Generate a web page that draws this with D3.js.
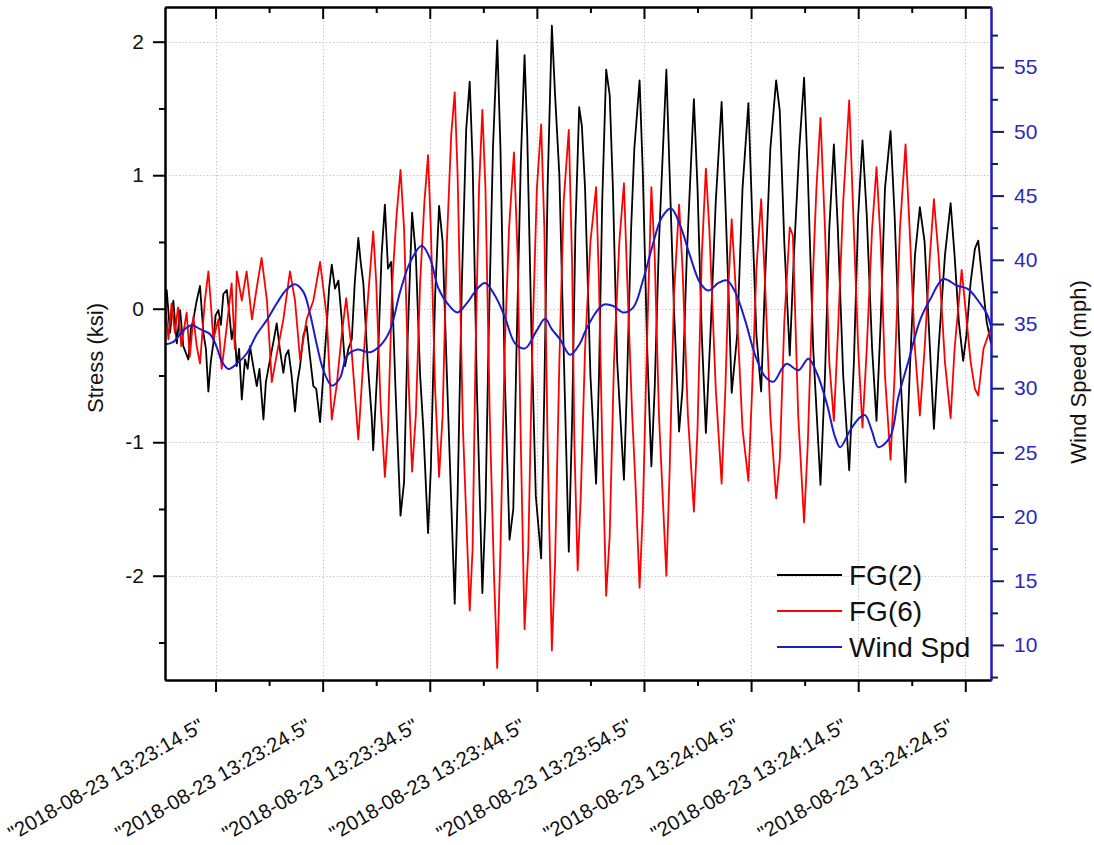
<!DOCTYPE html>
<html><head><meta charset="utf-8">
<script src="https://cdn.jsdelivr.net/npm/d3@7"></script>
<style>body{margin:0;background:#fff;} svg{display:block;font-family:Arial,"Liberation Sans",sans-serif;}</style>
</head><body><svg id="chart" width="1094" height="845"></svg>
<script>
// ---- data (time in seconds after 2018-08-23 13:23:00) ----
const timeFG2 = [9.78,9.94,10.25,10.56,10.88,11.19,11.49,11.96,12.2,12.43,12.74,13.05,13.36,13.6,13.83,14.05,14.29,14.5,14.76,15.0,15.23,15.55,15.8,16.01,16.25,16.48,16.7,16.95,17.25,17.5,17.72,18.0,18.35,18.6,18.97,19.2,19.59,19.9,20.21,20.5,20.83,21.05,21.3,21.6,21.92,22.15,22.39,22.7,23.01,23.3,23.63,23.9,24.26,24.6,24.88,25.1,25.35,25.65,25.97,26.3,26.59,26.9,27.22,27.5,27.83,28.05,28.3,28.7,29.08,29.22,
29.7,30.0,30.31,30.6,30.9,31.3,31.77,32.1,32.4,32.85,33.2,33.6,33.9,34.34,34.6,35.0,35.37,35.7,36.1,36.83,37.1,37.5,37.9,38.23,38.5,38.9,39.41,39.7,40.0,40.4,40.8,41.1,41.5,41.95,42.3,42.6,43.0,43.35,43.6,44.0,44.4,44.9,45.2,45.5,45.9,46.2,46.6,47.0,47.48,47.8,48.1,48.45,48.7,49.0,49.5,50.03,50.3,50.6,50.97,51.3,51.6,52.0,52.63,52.9,53.3,53.6,54.09,54.4,54.8,55.19,55.5,55.9,56.59,56.9,57.3,57.78,58.1,58.5,59.16,59.5,59.9,60.28,60.7,61.2,61.75,62.1,62.4,62.69,63.2,63.7,64.25,64.6,65.0,65.44,65.8,66.3,66.84,67.18,67.6,68.11,68.5,69.0,69.45,69.8,70.3,70.98,71.4,71.8,72.23,72.6,73.1,73.66,74.1,74.5,74.9,75.3,75.8,76.21,76.6,77.0,77.52,77.9,78.4,78.92,79.3,79.8,80.26,80.7,81.2,81.57,82.0,82.6,83.13,83.5,83.9,84.3,84.6,85.0,85.4,85.71,86.1,86.5,86.9];
const stressFG2 = [0.0,0.14,-0.18,0.06,-0.26,-0.01,-0.28,-0.38,-0.15,-0.08,0.06,0.17,-0.18,-0.3,-0.62,-0.4,-0.26,-0.05,-0.01,-0.12,0.11,0.14,-0.05,-0.23,-0.12,-0.43,-0.3,-0.68,-0.38,-0.45,-0.28,-0.42,-0.58,-0.45,-0.83,-0.55,-0.38,-0.25,-0.11,-0.3,-0.48,-0.35,-0.31,-0.5,-0.77,-0.55,-0.43,-0.2,-0.13,-0.35,-0.58,-0.6,-0.85,-0.45,-0.13,0.15,0.33,0.15,0.21,-0.1,-0.43,-0.3,-0.23,0.2,0.53,0.35,0.19,-0.4,-0.81,-1.06,
-0.3,0.4,0.78,0.3,0.35,-0.6,-1.55,-1.3,-0.3,0.72,0.4,-0.5,-0.9,-1.68,-1.2,0.1,0.77,0.5,-0.5,-2.21,-1.4,0.2,1.34,1.7,1.1,-0.6,-2.13,-1.5,-0.2,1.2,2.01,1.2,-0.5,-1.73,-1.5,-0.3,1.1,1.9,1.3,-0.2,-1.4,-1.87,-0.6,0.9,2.12,1.6,1.0,-0.3,-1.82,-0.8,0.6,1.51,1.37,0.9,-0.5,-1.31,-0.5,0.8,1.79,1.6,0.9,-0.4,-1.28,-0.6,0.6,1.2,1.71,1.0,-0.3,-1.18,-0.6,0.5,1.79,1.0,0.0,-0.92,-0.6,0.4,1.57,0.9,-0.2,-0.93,-0.2,0.8,1.55,0.8,0.1,-0.63,-0.2,0.9,1.54,0.7,-0.2,-0.62,0.2,1.2,1.71,1.48,0.5,-0.35,0.4,1.2,1.73,1.0,-0.3,-1.32,-0.5,0.6,1.23,0.6,-0.5,-1.21,-0.4,0.7,1.26,0.7,-0.3,-0.84,-0.1,0.9,1.33,0.7,-0.4,-1.3,-0.5,0.4,0.76,0.5,-0.3,-0.9,-0.3,0.4,0.79,0.4,-0.1,-0.39,-0.2,0.2,0.45,0.51,0.2,-0.1,-0.26];

const timeFG6 = [9.78,10.1,10.4,10.7,11.0,11.3,11.8,12.1,12.43,12.74,13.05,13.5,13.83,14.05,14.29,14.76,15.07,15.3,15.55,16.0,16.3,16.48,16.95,17.4,17.9,18.35,18.8,19.3,19.75,20.2,20.83,21.45,21.92,22.39,23.0,23.63,24.26,24.88,25.35,25.8,26.3,26.7,27.2,27.83,28.3,28.8,29.22,
29.5,29.9,30.31,30.6,31.0,31.4,31.77,32.1,32.5,32.85,33.2,33.6,34.0,34.34,34.6,35.0,35.37,35.7,36.1,36.5,36.83,37.1,37.6,38.23,38.5,38.8,39.1,39.41,39.7,40.1,40.5,40.8,41.1,41.5,41.9,42.36,42.7,43.0,43.35,43.7,44.1,44.5,44.9,45.2,45.5,45.9,46.2,46.6,47.0,47.48,47.8,48.0,48.31,48.6,49.0,49.5,50.03,50.3,50.6,50.97,51.3,51.7,52.2,52.63,52.9,53.4,53.7,54.09,54.4,54.8,55.19,55.5,55.9,56.59,56.9,57.3,57.78,58.1,58.6,59.16,59.5,59.9,60.28,60.6,61.2,61.75,62.1,62.4,62.69,63.1,63.7,64.25,64.6,65.0,65.44,65.8,66.3,66.84,67.18,67.6,68.11,68.4,68.9,69.45,69.8,70.3,70.6,70.98,71.4,71.8,72.23,72.6,73.1,73.66,74.0,74.5,74.9,75.3,75.8,76.21,76.6,77.0,77.52,77.9,78.4,78.92,79.3,79.8,80.26,80.7,81.2,81.57,82.0,82.6,83.13,83.5,84.16,84.4,85.0,85.4,85.71,86.2,86.9];
const stressFG6 = [0.06,-0.23,0.04,-0.18,0.01,-0.28,-0.03,-0.36,-0.06,-0.28,-0.41,0.06,0.28,0.05,-0.23,-0.08,-0.45,-0.3,-0.13,0.19,-0.3,0.28,0.06,0.28,-0.08,0.16,0.38,0.06,-0.55,-0.35,-0.08,0.28,0.06,-0.38,-0.08,0.06,0.35,-0.06,-0.83,-0.58,-0.18,0.08,-0.31,-0.98,-0.38,0.15,0.58,
0.2,-0.7,-1.26,-0.9,0.2,0.7,1.04,0.6,-0.5,-1.22,-0.8,0.2,0.8,1.15,0.6,-0.6,-1.26,-0.8,0.5,1.3,1.62,1.0,-0.9,-2.26,-1.8,-0.2,0.9,1.49,0.9,-0.8,-2.0,-2.69,-1.8,-0.3,0.6,1.17,0.4,-1.0,-2.4,-1.8,-0.2,0.9,1.38,0.6,-1.0,-2.56,-1.9,-0.4,0.8,1.34,0.3,-1.0,-1.96,-1.4,-0.3,0.5,0.91,0.2,-1.0,-2.15,-1.7,-0.4,0.5,0.94,0.3,-0.8,-1.3,-2.09,-1.5,-0.2,0.91,0.4,-0.8,-2.0,-1.2,0.1,0.78,0.3,-0.8,-1.52,-0.9,0.4,1.05,0.6,-0.6,-1.31,-0.6,0.2,0.67,0.1,-0.9,-1.29,-0.6,0.3,0.82,0.2,-0.8,-1.42,-1.13,-0.1,0.61,0.55,-0.8,-1.6,-1.0,0.3,0.9,1.43,0.6,-0.4,-0.84,-0.2,0.8,1.56,0.8,-0.3,-0.89,-0.3,0.6,1.06,0.5,-0.5,-1.13,-0.5,0.6,1.23,0.6,-0.3,-0.8,-0.3,0.4,0.82,0.4,-0.4,-0.82,-0.3,0.29,0.1,-0.4,-0.6,-0.65,-0.3,-0.14];

const timeWind = [9.78,10.56,11.49,12.28,13.05,13.99,14.61,15.08,15.7,16.48,17.41,18.35,19.28,20.21,21.15,21.92,22.7,23.32,23.95,24.57,25.35,26.12,26.75,27.68,28.93,29.86,30.79,31.73,32.66,33.75,34.53,35.3,36.24,37.08,37.95,38.89,39.66,40.6,41.53,42.46,43.4,44.49,45.27,45.89,46.67,47.6,48.53,49.0,49.93,50.71,51.64,52.58,53.51,54.44,55.23,56.16,57.03,57.87,58.8,59.74,60.51,61.45,62.23,63.01,63.94,64.87,65.81,66.58,67.37,67.83,68.92,69.85,70.63,71.57,72.34,72.81,73.74,74.52,75.14,75.77,76.39,77.48,78.25,79.19,80.28,81.21,82.46,83.7,84.79,85.88,86.51,86.9];
const speedWind = [33.4,33.6,34.5,34.9,34.6,34.2,33.2,32.1,31.5,31.9,32.7,34.2,35.3,36.6,37.7,38.1,37.5,35.8,33.4,31.4,30.2,30.8,32.5,33.0,32.8,33.3,34.5,37.5,39.8,41.1,40.1,37.8,36.5,35.9,36.6,37.7,38.2,37.2,35.5,33.5,33.1,34.5,35.4,34.6,33.8,32.6,33.5,34.4,35.8,36.5,36.4,35.9,36.3,38.5,40.9,43.3,44.0,42.7,40.3,38.2,37.6,38.2,38.4,37.5,35.3,32.6,30.9,30.5,31.5,31.9,31.4,32.3,31.2,28.8,26.2,25.4,26.7,27.6,27.9,26.7,25.4,26.2,29.3,32.1,35.3,36.9,38.5,38.0,37.7,36.6,35.8,34.8];

const xMajorTicks = [14.5,24.5,34.5,44.5,54.5,64.5,74.5,84.5];
const xMinorTicks = [19.5,29.5,39.5,49.5,59.5,69.5,79.5];
const xTickLabels = ['"2018-08-23 13:23:14.5"','"2018-08-23 13:23:24.5"','"2018-08-23 13:23:34.5"','"2018-08-23 13:23:44.5"','"2018-08-23 13:23:54.5"','"2018-08-23 13:24:04.5"','"2018-08-23 13:24:14.5"','"2018-08-23 13:24:24.5"'];
const leftMajorTicks = [-2,-1,0,1,2];
const leftTickLabels = ["-2","-1","0","1","2"];
const leftMinorTicks = [-2.5,-1.5,-0.5,0.5,1.5];
const rightMajorTicks = [10,15,20,25,30,35,40,45,50,55];
const rightMinorTicks = [7.5,12.5,17.5,22.5,27.5,32.5,37.5,42.5,47.5,52.5,57.5];
const seriesNames = ["FG(2)","FG(6)","Wind Spd"];
const seriesColors = ["#000000","#ff0000","#1c1cc8"];

// ---- layout ----
const L = 165, R = 991, T = 7, B = 680;
const svg = d3.select("#chart");
const x = d3.scaleLinear().domain([9.78, 86.9]).range([L, R]);
const yL = d3.scaleLinear().domain([-2.781, 2.26]).range([B, T]);
const yR = d3.scaleLinear().domain([7.27, 59.69]).range([B, T]);

svg.append("defs").append("clipPath").attr("id","clip")
  .append("rect").attr("x",L).attr("y",T).attr("width",R-L).attr("height",B-T);

// grid
const grid = svg.append("g").attr("stroke","#bdbdbd").attr("stroke-width",1).attr("stroke-dasharray","1.2,2.3");
grid.selectAll("line.v").data(xMajorTicks).join("line")
  .attr("x1",d=>Math.round(x(d))+0.5).attr("x2",d=>Math.round(x(d))+0.5).attr("y1",T).attr("y2",B);
grid.selectAll("line.h").data(leftMajorTicks).join("line")
  .attr("y1",d=>Math.round(yL(d))+0.5).attr("y2",d=>Math.round(yL(d))+0.5).attr("x1",L).attr("x2",R);

// series
const plot = svg.append("g").attr("clip-path","url(#clip)");
const lineL = (ts, vs) => d3.line().x((d,i)=>x(ts[i])).y((d,i)=>yL(vs[i]))(vs);
plot.append("path").attr("d", lineL(timeFG2, stressFG2)).attr("fill","none").attr("stroke",seriesColors[0]).attr("stroke-width",1.8).attr("stroke-linejoin","round");
plot.append("path").attr("d", lineL(timeFG6, stressFG6)).attr("fill","none").attr("stroke",seriesColors[1]).attr("stroke-width",1.8).attr("stroke-linejoin","round");
const windLine = d3.line().curve(d3.curveCatmullRom).x((d,i)=>x(timeWind[i])).y((d,i)=>yR(speedWind[i]));
plot.append("path").attr("d", windLine(speedWind)).attr("fill","none").attr("stroke",seriesColors[2]).attr("stroke-width",2);

// axes
function styleAxis(g, color){
  g.select(".domain").attr("stroke",color).attr("stroke-width",2);
  g.selectAll(".tick line").attr("stroke",color).attr("stroke-width",2);
}
const gB = svg.append("g").attr("transform",`translate(0,${B})`)
  .call(d3.axisBottom(x).tickValues(xMajorTicks).tickSize(12).tickSizeOuter(0).tickFormat(""));
styleAxis(gB,"#000");
const gBm = svg.append("g").attr("transform",`translate(0,${B})`)
  .call(d3.axisBottom(x).tickValues(xMinorTicks).tickSize(6).tickSizeOuter(0).tickFormat(""));
styleAxis(gBm,"#000");
const gT = svg.append("g").attr("transform",`translate(0,${T})`)
  .call(d3.axisTop(x).tickValues(xMajorTicks).tickSize(-12).tickSizeOuter(0).tickFormat(""));
styleAxis(gT,"#000");
const gTm = svg.append("g").attr("transform",`translate(0,${T})`)
  .call(d3.axisTop(x).tickValues(xMinorTicks).tickSize(-6).tickSizeOuter(0).tickFormat(""));
styleAxis(gTm,"#000");

const gL = svg.append("g").attr("transform",`translate(${L},0)`)
  .call(d3.axisLeft(yL).tickValues(leftMajorTicks).tickSize(12).tickSizeOuter(0).tickPadding(9).tickFormat((d,i)=>leftTickLabels[i]));
styleAxis(gL,"#000");
gL.selectAll("text").attr("font-size",21).attr("fill","#111").attr("font-family","Arial, 'Liberation Sans', sans-serif");
const gLm = svg.append("g").attr("transform",`translate(${L},0)`)
  .call(d3.axisLeft(yL).tickValues(leftMinorTicks).tickSize(6).tickSizeOuter(0).tickFormat(""));
styleAxis(gLm,"#000");

const gR = svg.append("g").attr("transform",`translate(${R},0)`)
  .call(d3.axisRight(yR).tickValues(rightMajorTicks).tickSize(13).tickSizeOuter(0).tickPadding(10).tickFormat(d=>String(d)));
styleAxis(gR,"#1c1cc8");
gR.selectAll(".tick line").attr("stroke","#1a1a60");
gR.selectAll("text").attr("font-size",21).attr("fill","#2a2ac0").attr("font-family","Arial, 'Liberation Sans', sans-serif");
const gRm = svg.append("g").attr("transform",`translate(${R},0)`)
  .call(d3.axisRight(yR).tickValues(rightMinorTicks).tickSize(7).tickSizeOuter(0).tickFormat(""));
styleAxis(gRm,"#1c1cc8");
gRm.selectAll(".tick line").attr("stroke","#1a1a60");

// bottom rotated labels
svg.append("g").selectAll("text").data(xMajorTicks).join("text")
  .attr("transform",d=>`translate(${x(d)-10},${B+50}) rotate(-30)`)
  .attr("text-anchor","end").attr("font-size",20.5).attr("fill","#111")
  .text((d,i)=>xTickLabels[i]);

// axis titles
svg.append("text").attr("transform",`translate(103,358) rotate(-90)`)
  .attr("text-anchor","middle").attr("font-size",22).attr("fill","#111").text("Stress (ksi)");
svg.append("text").attr("transform",`translate(1086,372) rotate(-90)`)
  .attr("text-anchor","middle").attr("font-size",22).attr("fill","#111").text("Wind Speed (mph)");

// legend
const legY = [575, 611, 647];
const leg = svg.append("g");
seriesNames.forEach((n,i)=>{
  leg.append("line").attr("x1",777).attr("x2",842).attr("y1",legY[i]).attr("y2",legY[i])
    .attr("stroke",seriesColors[i]).attr("stroke-width",2);
  leg.append("text").attr("x",849).attr("y",legY[i]+10).attr("font-size",28).attr("fill","#111").text(n);
});
</script></body></html>
